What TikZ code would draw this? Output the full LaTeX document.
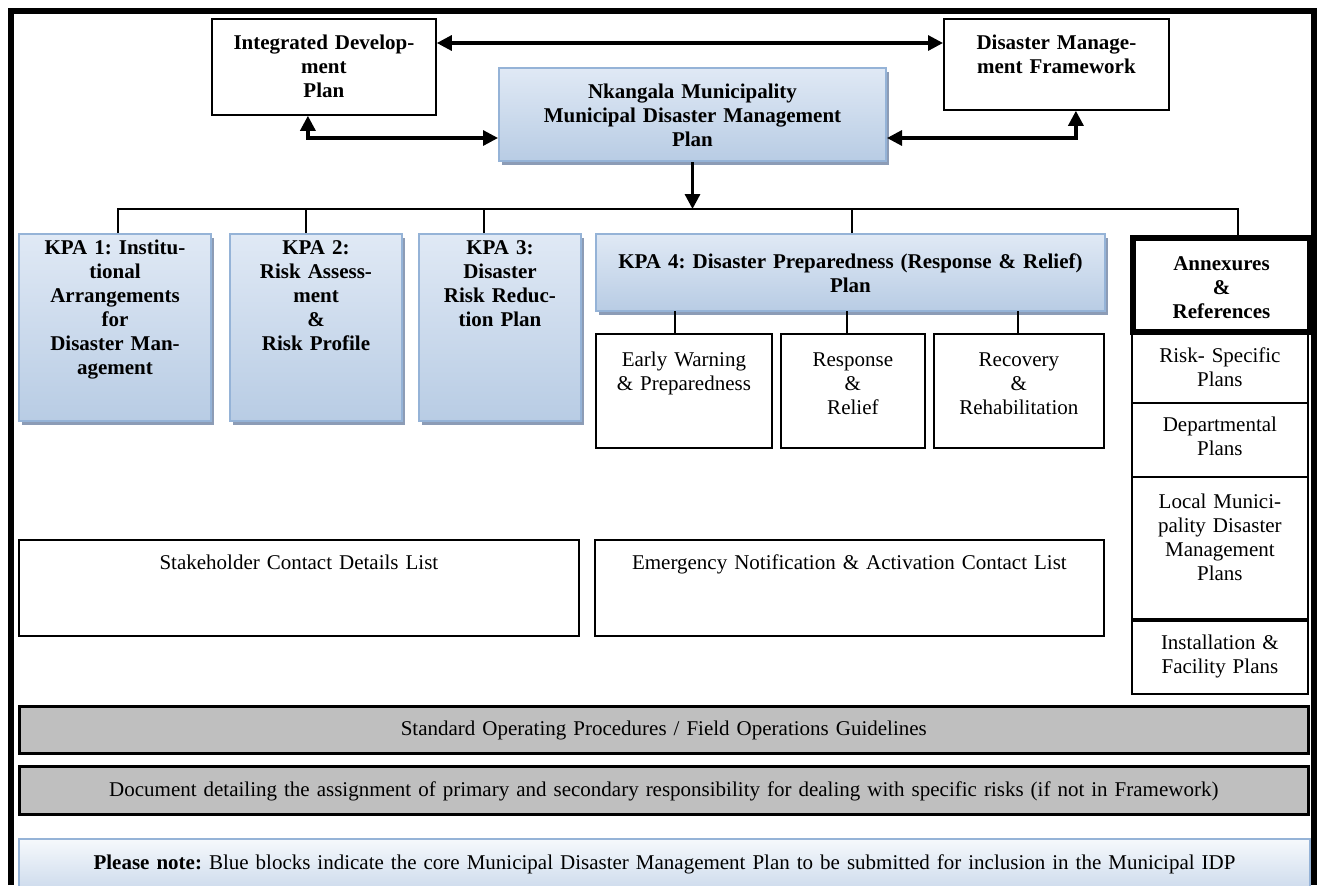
\documentclass[tikz,border=0pt]{standalone}
\usepackage{fontspec}
\setmainfont{Liberation Serif}
\usetikzlibrary{arrows.meta,shadows}
\frenchspacing

\definecolor{kpatop}{RGB}{224,233,245}
\definecolor{kpabot}{RGB}{184,204,228}
\definecolor{kpaedge}{RGB}{149,179,215}
\definecolor{kpashadow}{RGB}{140,156,182}
\definecolor{notetop}{RGB}{246,249,252}
\definecolor{notebot}{RGB}{196,212,233}
\definecolor{sopgray}{RGB}{191,191,191}

\tikzset{
  box/.style={anchor=north west, inner sep=0pt, align=center, font=\fontsize{10.5}{12}\selectfont},
  boldtext/.style={font=\fontsize{10.5}{12}\selectfont\bfseries},
  plainbox/.style={box, draw, line width=0.9pt},
  graybox/.style={box, draw, line width=1.3pt, fill=sopgray},
  annexbox/.style={box, boldtext, draw, line width=3pt},
  kpabox/.style={box, boldtext, draw=kpaedge, line width=1pt, top color=kpatop, bottom color=kpabot,
    drop shadow={shadow xshift=1.5pt, shadow yshift=-2pt, fill=kpashadow, opacity=1}},
  notebox/.style={box, draw=kpaedge, line width=1pt, top color=notetop, bottom color=notebot},
  link/.style={line width=1.6pt, {Triangle[length=7.5pt,width=7.5pt]}-{Triangle[length=7.5pt,width=7.5pt]}},
  feed/.style={line width=1.6pt, -{Triangle[length=7.5pt,width=7.5pt]}},
  bus/.style={line width=0.8pt},
  frame/.style={line width=2.75pt}
}

\begin{document}
\begin{tikzpicture}[x=0.5pt,y=-0.5pt]
\useasboundingbox (0,0) rectangle (1319,885);
\coordinate (toprow) at (0,43);
\coordinate (lowrow) at (0,138);
\coordinate (bus) at (0,209);

% top row
\node[plainbox, boldtext, text width=112pt, text height=15.5pt, text depth=32.5pt] (idp) at (211,18) {Integrated Develop-\\ment\\Plan};
\node[plainbox, boldtext, text width=112.5pt, text height=15.5pt, text depth=30pt] (dmf) at (943,18) {Disaster Manage-\\ment Framework};
\node[kpabox, text width=193.5pt, text height=15pt, text depth=31.5pt] (nk) at (498,67) {Nkangala Municipality\\Municipal Disaster Management\\Plan};

\draw[link] (idp.east |- toprow) -- (dmf.west |- toprow);
\draw[link] ([xshift=-8pt]idp.south) |- (nk.west |- lowrow);
\draw[link] (nk.east |- lowrow) -| ([xshift=9.75pt]dmf.south);
\draw[feed] (nk.south) -- (nk.south |- bus);

% key performance areas
\node[kpabox, text width=96pt, text height=10pt, text depth=83.5pt] (kpa1) at (18,233) {KPA 1: Institu-\\tional\\Arrangements\\for\\Disaster Man-\\agement};
\node[kpabox, text width=86pt, text height=10pt, text depth=83.5pt] (kpa2) at (229,233) {KPA 2:\\Risk Assess-\\ment\\\&\\Risk Profile};
\node[kpabox, text width=81pt, text height=10pt, text depth=83.5pt] (kpa3) at (418,233) {KPA 3:\\Disaster\\Risk Reduc-\\tion Plan};
\node[kpabox, text width=254.5pt, text height=17pt, text depth=21.5pt] (kpa4) at (595,233) {KPA 4: Disaster Preparedness (Response \& Relief)\\Plan};
\node[annexbox, text width=88.5pt, text height=16pt, text depth=31pt] (annex) at (1130,235) {Annexures\\\&\\References};

\draw[bus] ([xshift=1.5pt]kpa1.north) -- ++(0,-24) -| ([xshift=8.25pt]annex.north);
\foreach \n/\dx in {kpa2/-5pt, kpa3/-8pt, kpa4/0.75pt}
  \draw[bus] ([xshift=\dx]\n.north) -- ++(0,-24);

% preparedness parts
\node[plainbox, text width=88pt, text height=16.5pt, text depth=40.5pt] (ew) at (595,333) {Early Warning\\\& Preparedness};
\node[plainbox, text width=72pt, text height=16.5pt, text depth=40.5pt] (rr) at (780,333) {Response\\\&\\Relief};
\node[plainbox, text width=85pt, text height=16.5pt, text depth=40.5pt] (rc) at (933,333) {Recovery\\\&\\Rehabilitation};
\foreach \n/\dx in {ew/-4.5pt, rr/-3pt, rc/-0.5pt}
  \draw[bus] ([xshift=\dx]\n.north) -- ++(0,-22);

% annexures column
\node[plainbox, text width=88pt, text height=15.5pt, text depth=20pt] (rs) at (1131,331) {Risk- Specific\\Plans};
\node[plainbox, text width=88pt, text height=14.5pt, text depth=22.5pt] (dp) at (1131,402) {Departmental\\Plans};
\node[plainbox, text width=88pt, text height=16pt, text depth=55pt] (lm) at (1131,476) {Local Munici-\\pality Disaster\\Management\\Plans};
\node[plainbox, text width=88pt, text height=14.5pt, text depth=22pt] (inst) at (1131,620) {Installation \&\\Facility Plans};

% contact lists
\node[plainbox, text width=280pt, text height=15pt, text depth=33pt] (sc) at (18,539) {Stakeholder Contact Details List};
\node[plainbox, text width=254.5pt, text height=15pt, text depth=33pt] (en) at (594,539) {Emergency Notification \& Activation Contact List};

% full width rows
\node[graybox, text width=644.5pt, text height=14.5pt, text depth=9pt] (sop) at (18,705) {Standard Operating Procedures / Field Operations Guidelines};
\node[graybox, text width=644.5pt, text height=15pt, text depth=9pt] (doc) at (18,765) {Document detailing the assignment of primary and secondary responsibility for dealing with specific risks (if not in Framework)};
\node[notebox, text width=645.5pt, text height=15pt, text depth=16pt] (note) at (18,838) {\textbf{Please note:} Blue blocks indicate the core Municipal Disaster Management Plan to be submitted for inclusion in the Municipal IDP};

% outer frame
\draw[frame] (11,885) -- (11,11) -- (1314,11) -- (1314,885);
\end{tikzpicture}
\end{document}
